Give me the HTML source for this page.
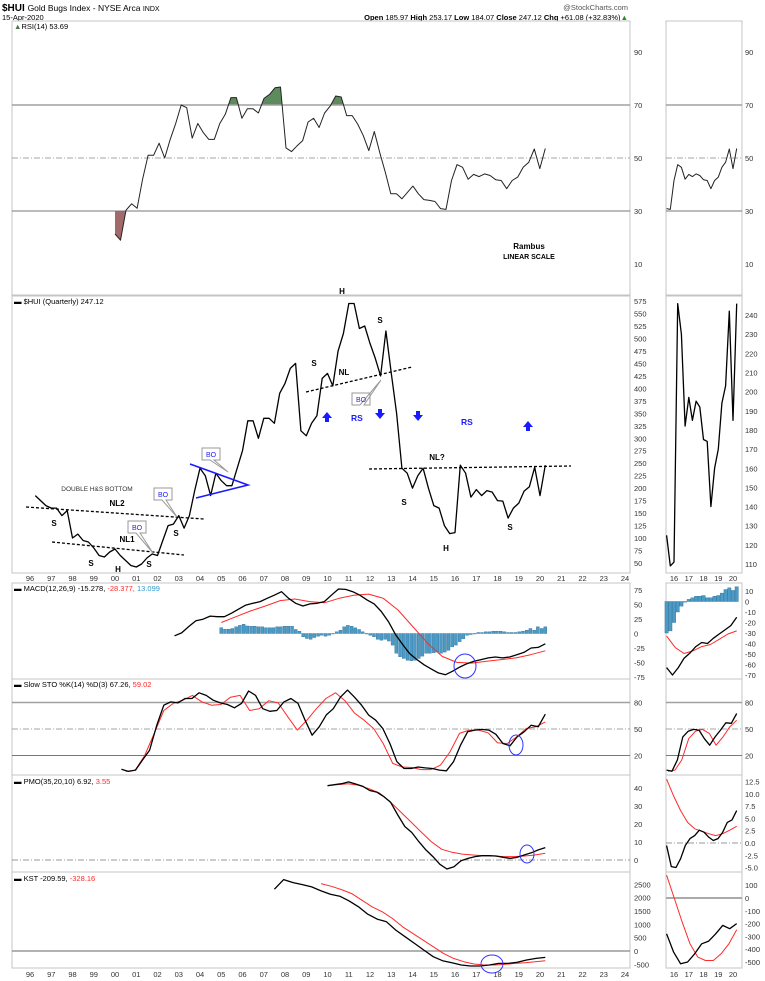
<!DOCTYPE html>
<html><head><meta charset="utf-8">
<style>
html,body{margin:0;padding:0;background:#fff;}
svg{display:block;font-family:"Liberation Sans",sans-serif;}
</style></head>
<body>
<svg id="chart" width="765" height="981" viewBox="0 0 765 981" xmlns="http://www.w3.org/2000/svg">
<g>
<text x="2" y="11" font-size="10" font-weight="bold">$HUI <tspan font-weight="normal" font-size="8.5">Gold Bugs Index - NYSE Arca </tspan><tspan font-weight="normal" font-size="7">INDX</tspan></text>
<text x="2" y="20" font-size="7.5">15-Apr-2020</text>
<text x="628" y="10" font-size="7.5" text-anchor="end" fill="#555">@StockCharts.com</text>
<text x="628" y="20" font-size="7.5" text-anchor="end"><tspan font-weight="bold">Open</tspan> 185.97 <tspan font-weight="bold">High</tspan> 253.17 <tspan font-weight="bold">Low</tspan> 184.07 <tspan font-weight="bold">Close</tspan> 247.12 <tspan font-weight="bold">Chg</tspan> +61.08 (+32.83%)<tspan fill="#2a8a2a">▲</tspan></text>
</g>
</svg>
<script>
// ---------- DATA ----------
const yearLabelsMain = ["96","97","98","99","00","01","02","03","04","05","06","07","08","09","10","11","12","13","14","15","16","17","18","19","20","21","22","23","24"];
const yearLabelsSmall = ["16","17","18","19","20"];
const priceStart = 1996.25;
const priceValues = [185,175,165,160,160,145,155,100,108,95,92,80,65,62,72,78,65,55,45,42,48,60,68,65,95,125,128,145,120,145,195,240,225,185,230,215,205,205,240,275,335,335,300,340,340,330,390,410,440,450,315,305,330,345,420,430,405,475,510,570,570,520,525,490,460,425,515,430,350,240,230,200,225,240,200,165,160,125,109,111,246,230,182,197,185,195,192,175,174,140,160,170,194,203,242,185,246];
const rsiStart = 2000.0;
const rsiValues = [21.3,19,30.3,32.7,31,42,51,51,55.6,50,57,63,70,69,57.5,63,59.6,57,57,63,66.5,72.8,72.8,65,68.6,68.6,67,72.5,74,76.5,76.8,53.8,52.4,54.6,56.5,63.6,65,61.5,67,69.6,73.4,73,66,66,62.8,58.4,52.8,60,52,44.6,36.5,36.5,34.6,37,39.4,36.5,34.3,34,33.6,30.9,30.6,41.5,47.5,46.5,42,43.8,43,44,43.4,41.8,41.5,38.4,41.5,42.8,46.5,48.4,53.4,46,53.6];
const macdStart = 2002.8, macdValues = [-4,1,12,22,24.6,30,29,29,35,42,49,52,55,60.7,66,72,60.7,52,47.5,51,52,55,66,76.7,76,72,66,58,51,38,20.6,-2,-19,-35,-45,-54,-61,-68,-71,-65,-58,-52,-48,-45,-42,-40.6,-42,-40.6,-36.6,-32.6,-25,-24,-17.7];
const macdSignalStart = 2005.0, macdSignalValues = [19,29,39,47.5,56.7,59.5,55,53,60.7,66,68,60.7,40.6,12,-16.6,-39.5,-49.8,-51,-48,-45,-42,-36.6,-29.8];
const macdHistStart = 2005.0, macdHistValues = [10,7.4,7.4,8.6,11.5,14,16,13,12.6,12.6,11.5,11.5,10,10,10,11.5,11.5,12.6,12.6,12.6,6.9,4,-5.7,-8.6,-10,-6.9,-4.6,-2.9,-4.6,-2.9,0,2.9,5.7,11.5,14,12.6,9.7,6.9,2.9,0,-2.9,-5.7,-10,-11.5,-10,-13,-20,-34,-40,-43,-46,-47,-46,-43,-39,-34,-34,-33,-32,-34,-32,-29,-23,-20,-14,-9,-3,-1.7,0,1.7,1.7,2.9,2.9,4,4,4,2.9,1.7,1.7,1.7,2.9,4,5.7,8.6,5.7,11.5,8.6,11.5];
const macdSmallValues = [-63,-70,-63,-54,-49,-43,-39,-40,-35,-31,-27,-23,-15];
const macdSmallSignal = [-33,-44,-49.5,-47,-43,-41,-36,-31,-28];
const macdSmallHist = [-30,-28,-20,-10,-4.4,-0.6,2,3.5,5,5,5.7,3.5,3.5,5,5.7,8,11.4,13,10.5,14];
const stoStart = 2000.3;
const stoK = [4.5,2,3.4,15,26,54,77,80.7,79.6,84.5,84.5,91,88,82.6,79.6,77.7,74,79,93,88,73,70,71,80.7,84.5,79,60,43,52.5,66,73,86,94,86,77,65.7,60,50.6,33.6,13,5.3,5.3,7,6,5.3,3.4,2.7,13,31.7,46.8,48.7,49.5,48.7,44,33.6,31,41,46.8,54.3,52.5,66.8];
const stoD = [2,3.4,20,45,71,79,82.6,88,80.7,77,77.7,86,88,71,73,82,79.6,63.8,48.7,60,73,84.5,91,82,68,60,50.6,33.6,11,7,6.4,4,4,9,24,45,48.7,48.7,45.7,34.3,33.6,41,50.6,52.5,58];
const stoSmallK = [3.4,2.2,15,41,47.5,49.5,48.7,39,31.7,41,48.7,57,56.4,67.5];
const stoSmallD = [2.2,3.4,15,39,47.5,49.5,45,31.7,41,52.5,60];
const pmoStart = 2010.0;
const pmoValues = [41.3,41.9,42.4,43.4,42.2,41,38.6,37.7,35.3,32,25,18.6,15.3,10.2,5.6,1.9,-2.4,-5,-3.7,-0.4,0.9,1.9,2.4,2.4,2.2,1.5,0.9,1.5,2.8,4,5.6,6.9];
const pmoSignal = [41.3,41.9,42.4,41.5,39.6,37.2,32.6,27,21.4,15.8,10.2,6,4.3,3.3,2.8,2.4,2.2,1.9,1.9,2.2,2.8,3.7];
const pmoSmallValues = [-0.5,-4.8,-5,-3.2,-0.5,0.9,1.5,2.6,2.2,1.2,0.5,0.9,2.2,4.2,4.7,6.6];
const pmoSmallSignal = [13,9.6,6.6,4.2,2.9,2.4,1.9,1.5,1.9,2.6,3.4];
const kstStart = 2007.5, kstValues = [2313,2674,2562,2488,2400,2250,2127,2052,1878,1654,1380,1193,1093,782,533,284,35,-214,-363,-438,-525,-562,-562,-525,-463,-463,-425,-338,-276,-239];
const kstSignalStart = 2009.7, kstSignal = [2525,2425,2300,2151,1902,1654,1467,1218,907,658,409,160,-89,-276,-400,-488,-525,-525,-500,-463,-438,-400,-363];
const kstSmallValues = [-280,-423,-514,-500,-436,-358,-337,-280,-214,-240,-200];
const kstSmallSignal = [178,-5,-188,-358,-462,-488,-488,-436,-358,-248];

// ---------- SCALES ----------
const END = 2020.25, SMALL_START = 2015.5;
const xM = yr => 30 + (yr - 1996) * 21.25;
const xS = yr => 674 + (yr - 2016) * 14.75;
const yRSI = v => 105 + (70 - v) * 2.65;
const yP = v => 563 - (v - 50) * 0.499;
const yPs = v => 564 - (v - 110) * 1.915;
const yM = v => 633.5 - v * 0.58;
const yMs = v => 601.5 - v * 1.05;
const ySto = v => 729 - (v - 50) * 0.883;
const yPmo = v => 860 - v * 1.8;
const yPmoS = v => 843 - v * 4.91;
const yK = v => 951 - v * 0.0267;
const yKs = v => 898 - v * 0.128;

const svg = document.getElementById('chart');
const NS = 'http://www.w3.org/2000/svg';
function mk(tag, attrs, parent) {
  const e = document.createElementNS(NS, tag);
  for (const k in attrs) e.setAttribute(k, attrs[k]);
  (parent || svg).appendChild(e);
  return e;
}
function txt(x, y, s, size, attrs) {
  const t = mk('text', Object.assign({x: x, y: y, 'font-size': size}, attrs || {}));
  t.textContent = s;
  return t;
}
function pts(vals, start, end, xf, yf) {
  const step = vals.length > 1 ? (end - start) / (vals.length - 1) : 0;
  return vals.map((v, i) => [xf(start + i * step), yf(v)]);
}
function poly(p, color, w, name) {
  const e = mk('polyline', {points: p.map(q => q[0].toFixed(1) + ',' + q[1].toFixed(1)).join(' '), fill: 'none', stroke: color, 'stroke-width': w, 'stroke-linejoin': 'round'});
  
  
  return e;
}
function hline(x1, x2, y, color, w, dash, name) {
  const e = mk('line', {x1: x1, x2: x2, y1: y, y2: y, stroke: color, 'stroke-width': w});
  if (dash) e.setAttribute('stroke-dasharray', dash);
  
  
  return e;
}
function panel(y1, y2, name) {
  const a = mk('rect', {x: 12, y: y1, width: 618, height: y2 - y1, fill: 'none', stroke: '#c4c4c4', 'stroke-width': 1});
  
  
  const b = mk('rect', {x: 666, y: y1, width: 76, height: y2 - y1, fill: 'none', stroke: '#c4c4c4', 'stroke-width': 1});
  
  
}
function axisLabels(vals, yf, x, name, fmt) {
  vals.forEach(v => {
    const t = txt(x, yf(v) + 3, fmt ? fmt(v) : String(v), 7.5, {fill: '#333'});
    
    
  });
}
function label(x, y, parts, name) {
  const t = mk('text', {x: x, y: y, 'font-size': 7.5});
  
  
  parts.forEach(p => { const s = mk('tspan', {fill: p[1]}, t); s.textContent = p[0]; });
}

// panels
panel(21, 295, 'rsi'); panel(296, 573, 'price'); panel(583, 679, 'macd');
panel(679, 775, 'sto'); panel(775, 872, 'pmo'); panel(872, 968, 'kst');

// ---------- RSI ----------
const rsiP = pts(rsiValues, rsiStart, END, xM, yRSI);
const rsiSmall = rsiValues.slice(-20);
const rsiPS = pts(rsiSmall, SMALL_START, END, xS, yRSI);
mk('clipPath', {id: 'c70'}).appendChild(document.createElementNS(NS, 'rect'));
document.querySelector('#c70 rect').setAttribute('x', 0); document.querySelector('#c70 rect').setAttribute('y', 0);
document.querySelector('#c70 rect').setAttribute('width', 765); document.querySelector('#c70 rect').setAttribute('height', yRSI(70));
mk('clipPath', {id: 'c30'}).appendChild(document.createElementNS(NS, 'rect'));
const r30 = document.querySelector('#c30 rect');
r30.setAttribute('x', 0); r30.setAttribute('y', yRSI(30)); r30.setAttribute('width', 765); r30.setAttribute('height', 300);
function fillArea(p, lvl, col, clip, name) {
  const q = p.concat([[p[p.length - 1][0], yRSI(lvl)], [p[0][0], yRSI(lvl)]]);
  const e = mk('polygon', {points: q.map(a => a[0].toFixed(1) + ',' + a[1].toFixed(1)).join(' '), fill: col, 'clip-path': 'url(#' + clip + ')'});
  
  
}
fillArea(rsiP, 70, '#5e8b5e', 'c70', 'rsi-overbought-fill');
fillArea(rsiP, 30, '#a26a6a', 'c30', 'rsi-oversold-fill');
[[12, 630], [666, 742]].forEach(r => {
  hline(r[0], r[1], yRSI(70), '#a0a0a0', 1.5, null, 'rsi-70-line');
  hline(r[0], r[1], yRSI(50), '#888', 0.8, '6,2,1,2', 'rsi-50-line');
  hline(r[0], r[1], yRSI(30), '#777', 1, null, 'rsi-30-line');
});
poly(rsiP, '#222', 1, 'rsi-line');
poly(rsiPS, '#222', 1, 'rsi-small-line');
axisLabels([90, 70, 50, 30, 10], yRSI, 634, 'rsi-axis');
axisLabels([90, 70, 50, 30, 10], yRSI, 745, 'rsi-small-axis');
label(14, 29, [['▲', '#4a7a4a'], ['RSI(14) 53.69', '#000']], 'rsi-label');
txt(529, 249, 'Rambus', 8, {'font-weight': 'bold', 'text-anchor': 'middle'});
txt(529, 259, 'LINEAR SCALE', 7, {'font-weight': 'bold', 'text-anchor': 'middle'});

// ---------- PRICE ----------
poly(pts(priceValues, priceStart, END, xM, yP), '#000', 1.3, 'price-line');
poly(pts(priceValues.slice(-20), SMALL_START, END, xS, yPs), '#000', 1.3, 'price-small-line');
const pTicks = []; for (let v = 575; v >= 50; v -= 25) pTicks.push(v);
axisLabels(pTicks, yP, 634, 'price-axis');
const psTicks = []; for (let v = 240; v >= 110; v -= 10) psTicks.push(v);
axisLabels(psTicks, yPs, 745, 'price-small-axis');
label(14, 304, [['▬ $HUI (Quarterly) 247.12', '#000']], 'price-label');
function yearAxis(y) {
  yearLabelsMain.forEach((s, i) => { const t = txt(xM(1996 + i), y, s, 7.5, {'text-anchor': 'middle', fill: '#333'});   });
  yearLabelsSmall.forEach((s, i) => { const t = txt(xS(2016 + i), y, s, 7.5, {'text-anchor': 'middle', fill: '#333'});   });
}
yearAxis(581); yearAxis(977);

// annotations
function dashed(x1, y1, x2, y2, name) {
  const e = mk('line', {x1: x1, y1: y1, x2: x2, y2: y2, stroke: '#000', 'stroke-width': 1.3, 'stroke-dasharray': '3,2'});
   
}
dashed(306, 392, 412, 367, 'neckline-top'); dashed(369, 469, 571, 466, 'neckline-current');
dashed(26, 507, 204, 519, 'neckline-nl2'); dashed(52, 542, 184, 555, 'neckline-nl1');
[['H', 342, 294], ['S', 314, 366], ['NL', 344, 375], ['S', 380, 323], ['NL?', 437, 460], ['S', 404, 505], ['H', 446, 551], ['S', 510, 530],
 ['NL2', 117, 506], ['S', 54, 526], ['NL1', 127, 542], ['S', 91, 566], ['H', 118, 572], ['S', 149, 567], ['S', 176, 536]].forEach(a => {
  const t = txt(a[1], a[2], a[0], 8, {'font-weight': 'bold', 'text-anchor': 'middle'});
   
});
txt(97, 491, 'DOUBLE H&S BOTTOM', 6.5, {'text-anchor': 'middle', fill: '#333'});
[['RS', 351, 421], ['RS', 461, 425]].forEach(a => { const t = txt(a[1], a[2], a[0], 8.5, {'font-weight': 'bold', fill: '#1a1aff'});  });
function arrow(x, y, up) {
  const d = up ? `M${x-2},${y+6}h4v-4h3l-5,-6l-5,6h3z` : `M${x-2},${y-6}h4v4h3l-5,6l-5,-6h3z`;
  const e = mk('path', {d: d, fill: '#1a1aff'});
   
}
arrow(327, 416, true); arrow(380, 415, false); arrow(418, 417, false); arrow(528, 425, true);
function bo(x, y, px, py) {
  const e = mk('path', {d: `M${x},${y}h18v12h-${6}L${px},${py}L${x+8},${y+12}h-8z`, fill: '#fff', stroke: '#999', 'stroke-width': 1});
   
  const t = txt(x + 9, y + 9, 'BO', 7, {fill: '#2222ff', 'text-anchor': 'middle'});
  
}
bo(352, 393, 381, 380); bo(202, 448, 228, 472); bo(154, 488, 177, 517); bo(128, 521, 153, 553);
const tri = mk('polyline', {points: '190,464 248,485 196,498', fill: 'none', stroke: '#1a1aff', 'stroke-width': 1.6});
 

// ---------- MACD ----------
const bw = 3;
macdHistValues.forEach((v, i) => {
  const x = xM(macdHistStart + i * (END - macdHistStart) / (macdHistValues.length - 1));
  const b = mk('rect', {x: x - bw / 2, y: Math.min(yM(v), yM(0)), width: bw, height: Math.abs(yM(v) - yM(0)) || 0.5, fill: '#4c9bc7', stroke: '#2c6f96', 'stroke-width': 0.4});
   
});
macdSmallHist.forEach((v, i) => {
  const x = xS(SMALL_START + i * 0.25);
  const b = mk('rect', {x: x - 1.7, y: Math.min(yMs(v), yMs(0)), width: 3.4, height: Math.abs(yMs(v) - yMs(0)) || 0.5, fill: '#4c9bc7', stroke: '#2c6f96', 'stroke-width': 0.4});
   
});
poly(pts(macdSignalValues, macdSignalStart, END, xM, yM), '#ff2a2a', 1, 'macd-signal-line');
poly(pts(macdValues, macdStart, END, xM, yM), '#000', 1.3, 'macd-line');
poly(pts(macdSmallSignal, SMALL_START, END, xS, yMs), '#ff2a2a', 1, 'macd-small-signal-line');
poly(pts(macdSmallValues, SMALL_START, END, xS, yMs), '#000', 1.3, 'macd-small-line');
axisLabels([75, 50, 25, 0, -25, -50, -75], yM, 634, 'macd-axis');
axisLabels([10, 0, -10, -20, -30, -40, -50, -60, -70], yMs, 745, 'macd-small-axis');
label(14, 591, [['▬ MACD(12,26,9) -15.278, ', '#000'], ['-28.377, ', '#ff2a2a'], ['13.099', '#3399cc']], 'macd-label');

// ---------- STO ----------
[[12, 630], [666, 742]].forEach(r => {
  hline(r[0], r[1], ySto(80), '#a0a0a0', 1.5, null, 'sto-80-line');
  hline(r[0], r[1], ySto(50), '#888', 0.8, '6,2,1,2', 'sto-50-line');
  hline(r[0], r[1], ySto(20), '#777', 1, null, 'sto-20-line');
});
poly(pts(stoD, 2000.5, END, xM, ySto), '#ff2a2a', 1, 'sto-d-line');
poly(pts(stoK, stoStart, END, xM, ySto), '#000', 1.3, 'sto-k-line');
poly(pts(stoSmallD, SMALL_START + 0.1, END, xS, ySto), '#ff2a2a', 1, 'sto-small-d-line');
poly(pts(stoSmallK, SMALL_START, END, xS, ySto), '#000', 1.3, 'sto-small-k-line');
axisLabels([80, 50, 20], ySto, 634, 'sto-axis');
axisLabels([80, 50, 20], ySto, 745, 'sto-small-axis');
label(14, 687, [['▬ Slow STO %K(14) %D(3) 67.26, ', '#000'], ['59.02', '#ff2a2a']], 'sto-label');

// ---------- PMO ----------
hline(12, 630, yPmo(0), '#777', 0.8, '6,2,1,2', 'pmo-zero-line');
hline(666, 742, yPmoS(0), '#777', 0.8, '6,2,1,2', 'pmo-small-zero-line');
poly(pts(pmoSignal, pmoStart, END, xM, yPmo), '#ff2a2a', 1, 'pmo-signal-line');
poly(pts(pmoValues, pmoStart, END, xM, yPmo), '#000', 1.3, 'pmo-line');
poly(pts(pmoSmallSignal, SMALL_START, END, xS, yPmoS), '#ff2a2a', 1, 'pmo-small-signal-line');
poly(pts(pmoSmallValues, SMALL_START, END, xS, yPmoS), '#000', 1.3, 'pmo-small-line');
axisLabels([40, 30, 20, 10, 0], yPmo, 634, 'pmo-axis');
axisLabels([12.5, 10, 7.5, 5, 2.5, 0, -2.5, -5], yPmoS, 745, 'pmo-small-axis', v => v.toFixed(1));
label(14, 784, [['▬ PMO(35,20,10) 6.92, ', '#000'], ['3.55', '#ff2a2a']], 'pmo-label');

// ---------- KST ----------
hline(12, 630, yK(0), '#999', 1.5, null, 'kst-zero-line');
hline(666, 742, yKs(0), '#aaa', 2, null, 'kst-small-zero-line');
poly(pts(kstSignal, kstSignalStart, END, xM, yK), '#ff2a2a', 1, 'kst-signal-line');
poly(pts(kstValues, kstStart, END, xM, yK), '#000', 1.3, 'kst-line');
poly(pts(kstSmallSignal, SMALL_START, END, xS, yKs), '#ff2a2a', 1, 'kst-small-signal-line');
poly(pts(kstSmallValues, SMALL_START, END, xS, yKs), '#000', 1.3, 'kst-small-line');
axisLabels([2500, 2000, 1500, 1000, 500, 0, -500], yK, 634, 'kst-axis');
axisLabels([100, 0, -100, -200, -300, -400, -500], yKs, 745, 'kst-small-axis');
label(14, 881, [['▬ KST -209.59, ', '#000'], ['-328.16', '#ff2a2a']], 'kst-label');

// circles
[[465, 666, 11, 12, 'macd-crossover-circle'], [516, 745, 7, 10, 'sto-crossover-circle'], [527, 854, 7, 9, 'pmo-crossover-circle'], [492, 964, 11, 9, 'kst-crossover-circle']].forEach(c => {
  const e = mk('ellipse', {cx: c[0], cy: c[1], rx: c[2], ry: c[3], fill: 'none', stroke: '#3333ff', 'stroke-width': 1});
   
});
</script>
</body></html>
